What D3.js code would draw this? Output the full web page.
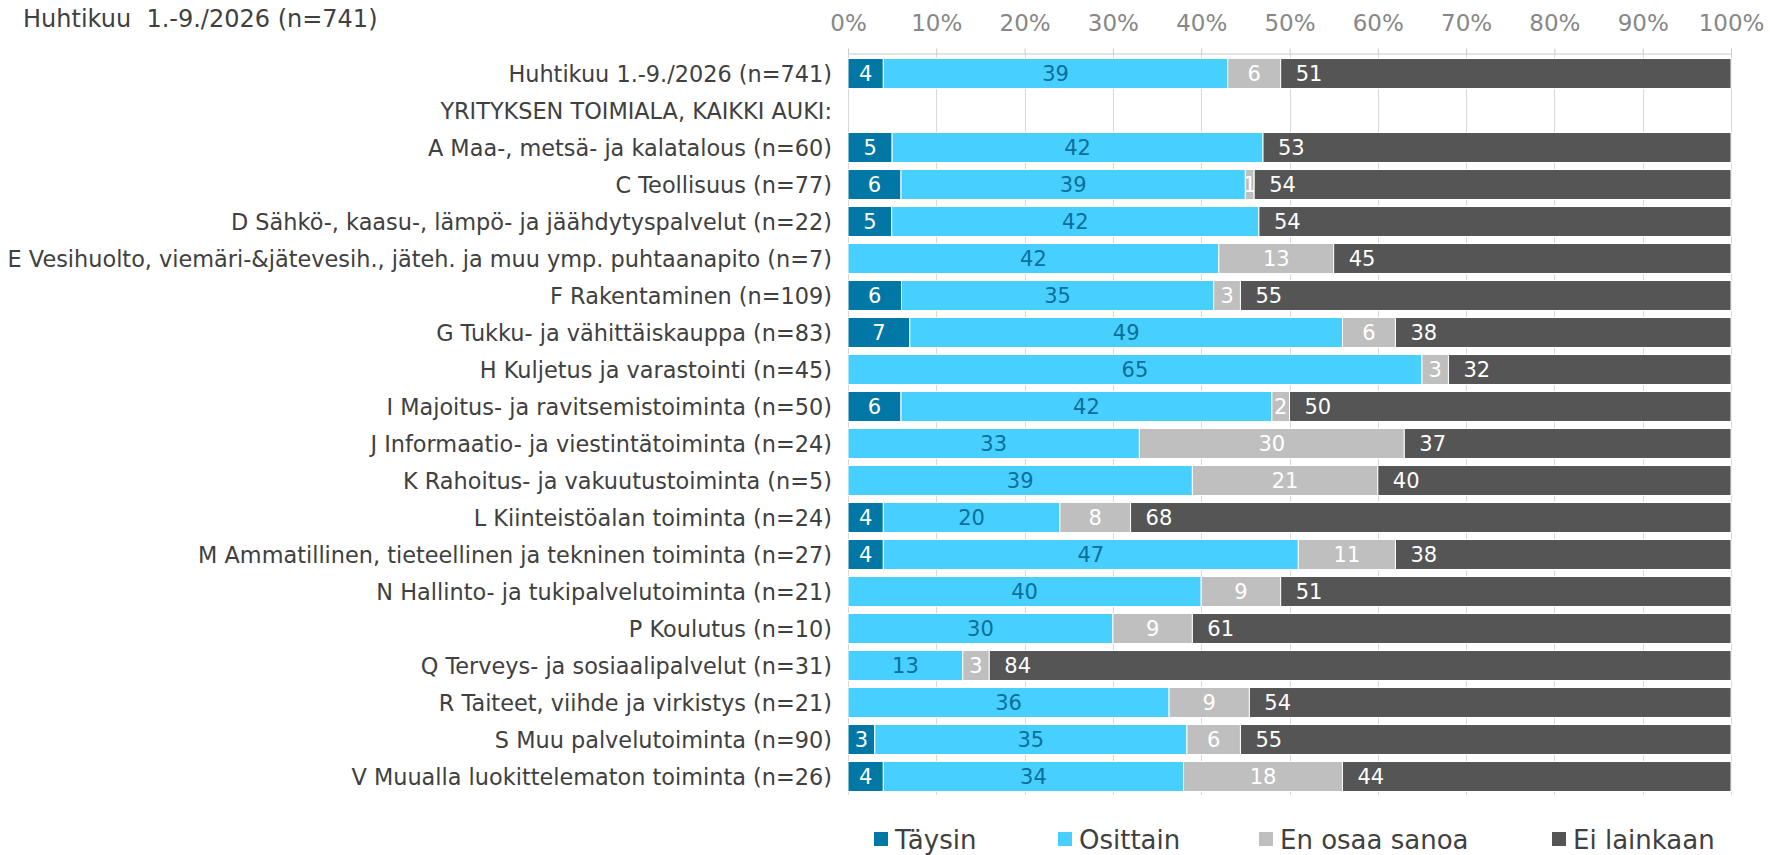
<!DOCTYPE html>
<html>
<head>
<meta charset="utf-8">
<script src="https://cdn.jsdelivr.net/npm/d3@7"></script>
<style>
  body { margin: 0; background: #fff; }
  svg { display: block; font-family: "DejaVu Sans", Verdana, sans-serif; }
</style>
</head>
<body>
<svg width="1770" height="855"></svg>
<script>
// data (percent)
var categories = [
  "Huhtikuu 1.-9./2026 (n=741)",
  "YRITYKSEN TOIMIALA, KAIKKI AUKI:",
  "A Maa-, metsä- ja kalatalous (n=60)",
  "C Teollisuus (n=77)",
  "D Sähkö-, kaasu-, lämpö- ja jäähdytyspalvelut (n=22)",
  "E Vesihuolto, viemäri-&jätevesih., jäteh. ja muu ymp. puhtaanapito (n=7)",
  "F Rakentaminen (n=109)",
  "G Tukku- ja vähittäiskauppa (n=83)",
  "H Kuljetus ja varastointi (n=45)",
  "I Majoitus- ja ravitsemistoiminta (n=50)",
  "J Informaatio- ja viestintätoiminta (n=24)",
  "K Rahoitus- ja vakuutustoiminta (n=5)",
  "L Kiinteistöalan toiminta (n=24)",
  "M Ammatillinen, tieteellinen ja tekninen toiminta (n=27)",
  "N Hallinto- ja tukipalvelutoiminta (n=21)",
  "P Koulutus (n=10)",
  "Q Terveys- ja sosiaalipalvelut (n=31)",
  "R Taiteet, viihde ja virkistys (n=21)",
  "S Muu palvelutoiminta (n=90)",
  "V Muualla luokittelematon toiminta (n=26)"
];
var taysin   = [4, 0, 5, 6, 5, 0, 6, 7, 0, 6, 0, 0, 4, 4, 0, 0, 0, 0, 3, 4];
var osittain = [39, 0, 42, 39, 42, 42, 35, 49, 65, 42, 33, 39, 20, 47, 40, 30, 13, 36, 35, 34];
var eos      = [6, 0, 0, 1, 0, 13, 3, 6, 3, 2, 30, 21, 8, 11, 9, 9, 3, 9, 6, 18];
var ei       = [51, 0, 53, 54, 54, 45, 55, 38, 32, 50, 37, 40, 68, 38, 51, 61, 84, 54, 55, 44];

var seriesNames = ["Täysin", "Osittain", "En osaa sanoa", "Ei lainkaan"];
var seriesKeys = ["taysin", "osittain", "eos", "ei"];
var colors = ["#0077a4", "#47cfff", "#bfbfbf", "#555555"];
var labelColors = ["#ffffff", "#0b6f99", "#ffffff", "#ffffff"];
var tickValues = [0, 0.1, 0.2, 0.3, 0.4, 0.5, 0.6, 0.7, 0.8, 0.9, 1];
var title = "Huhtikuu  1.-9./2026 (n=741)";

var svg = d3.select('svg');

var rows = categories.map(function(c, i) {
  return { cat: c, taysin: taysin[i], osittain: osittain[i], eos: eos[i], ei: ei[i] };
});

var x = d3.scaleLinear().domain([0, 1]).range([848, 1731]);
var y = d3.scaleBand().domain(categories).range([55, 795])
    .paddingInner(0.19).paddingOuter(0.095);

var stack = d3.stack().keys(seriesKeys).offset(d3.stackOffsetExpand);
var layers = stack(rows);

// title
svg.append('text')
    .attr('x', 23).attr('y', 27)
    .attr('font-size', 24)
    .attr('fill', '#404040')
    .style('white-space', 'pre')
    .text(title);

// gridlines
svg.append('g').selectAll('line')
    .data(tickValues)
    .enter().append('line')
    .attr('x1', function(d) { return Math.round(x(d)) + 0.5; })
    .attr('x2', function(d) { return Math.round(x(d)) + 0.5; })
    .attr('y1', 53.5).attr('y2', 795)
    .attr('stroke', '#d9d9d9');

// top axis
var axis = svg.append('g')
    .attr('transform', 'translate(0,53.5)')
    .call(d3.axisTop(x).tickValues(tickValues).tickFormat(d3.format('.0%'))
      .tickSizeInner(5).tickSizeOuter(0).tickPadding(17.5));
axis.select('.domain').attr('stroke', '#c8c8c8');
axis.selectAll('.tick line').attr('stroke', '#c8c8c8');
axis.selectAll('.tick text')
    .attr('font-size', 23)
    .attr('fill', '#878787')
    .attr('font-family', '"DejaVu Sans", Verdana, sans-serif');

// category labels
svg.append('g').selectAll('text')
    .data(categories)
    .enter().append('text')
    .attr('x', 832)
    .attr('y', function(d) { return y(d) + y.bandwidth() / 2; })
    .attr('dy', '0.36em')
    .attr('text-anchor', 'end')
    .attr('font-size', 22.4)
    .attr('fill', '#404040')
    .text(function(d) { return d; });

// bars
var layerG = svg.append('g').selectAll('g')
    .data(layers)
    .enter().append('g')
    .attr('fill', function(d, i) { return colors[i]; });

layerG.selectAll('rect')
    .data(function(d) { return d.filter(function(p) { return p[1] - p[0] > 0; }); })
    .enter().append('rect')
    .attr('x', function(d) { return x(d[0]); })
    .attr('y', function(d) { return y(d.data.cat); })
    .attr('width', function(d) { return x(d[1]) - x(d[0]); })
    .attr('height', y.bandwidth())
    .attr('stroke', '#ffffff')
    .attr('stroke-width', 1);

// value labels
layerG.each(function(layer, li) {
  d3.select(this).selectAll('text')
    .data(layer.filter(function(p) { return p.data[layer.key] > 0; }))
    .enter().append('text')
    .attr('x', function(d) {
      return li === 3 ? x(d[0]) + 15 : (x(d[0]) + x(d[1])) / 2;
    })
    .attr('y', function(d) { return y(d.data.cat) + y.bandwidth() / 2; })
    .attr('dy', '0.36em')
    .attr('text-anchor', li === 3 ? 'start' : 'middle')
    .attr('font-size', 21)
    .attr('fill', labelColors[li])
    .text(function(d) { return d.data[layer.key]; });
});

// legend
var legendX = [874, 1058, 1259, 1552];
var legend = svg.append('g').selectAll('g')
    .data(seriesNames)
    .enter().append('g')
    .attr('transform', function(d, i) { return 'translate(' + legendX[i] + ',0)'; });
legend.append('rect')
    .attr('x', 0).attr('y', 832)
    .attr('width', 14).attr('height', 14)
    .attr('fill', function(d, i) { return colors[i]; });
legend.append('text')
    .attr('x', 21).attr('y', 849)
    .attr('font-size', 26)
    .attr('fill', '#404040')
    .text(function(d) { return d; });
</script>
</body>
</html>
